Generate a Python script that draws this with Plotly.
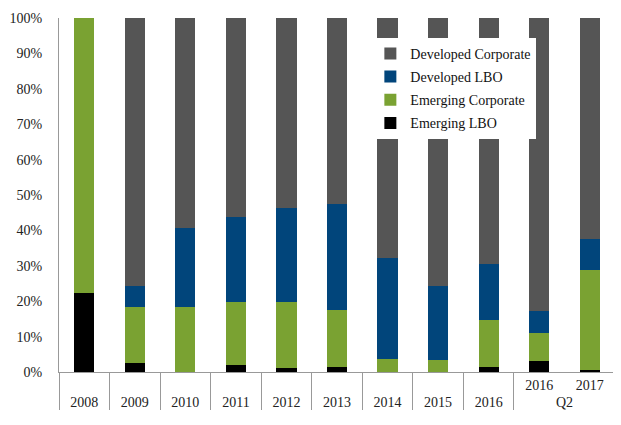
import plotly.graph_objects as go

# outer / inner category levels
outer = ["2008", "2009", "2010", "2011", "2012", "2013", "2014", "2015", "2016", "Q2", "Q2"]
inner = [" ", "  ", "   ", "    ", "     ", "      ", "       ", "        ", "         ", "2016", "2017"]

em_lbo = [22.4, 2.6, 0.0, 2.1, 1.2, 1.5, 0.0, 0.0, 1.5, 3.2, 0.7]
em_corp = [77.6, 15.8, 18.3, 17.8, 18.7, 16.1, 3.8, 3.3, 13.3, 7.9, 28.1]
dev_lbo = [0.0, 6.0, 22.5, 24.0, 26.5, 30.0, 28.4, 21.1, 15.7, 6.2, 8.7]
dev_corp = [0.0, 75.6, 59.2, 56.1, 53.6, 52.4, 67.8, 75.6, 69.5, 82.7, 62.5]

series = [
    ("Emerging LBO", em_lbo, "#000000"),
    ("Emerging Corporate", em_corp, "#7aa232"),
    ("Developed LBO", dev_lbo, "#01457b"),
    ("Developed Corporate", dev_corp, "#555555"),
]

font = "Liberation Serif"

fig = go.Figure()
for i, (name, vals, col) in enumerate(series):
    fig.add_trace(go.Bar(
        x=[outer, inner], y=vals, name=name, legendgroup=name,
        legendrank=len(series) - i,
        marker=dict(color=col, line=dict(width=0)),
    ))

# page body has an 8px margin, so the figure is a bit smaller than the window
fig.update_layout(
    barmode="stack",
    bargap=0.6,
    width=609, height=417,
    margin=dict(l=49, r=2, t=10, b=53),
    plot_bgcolor="white", paper_bgcolor="white",
    font=dict(family=font, size=14, color="#222222"),
    legend=dict(
        x=0.56, y=0.944, xanchor="left", yanchor="top",
        bgcolor="white", traceorder="grouped", tracegroupgap=2,
        itemwidth=30,
        font=dict(family=font, size=14, color="#111111"),
    ),
)
fig.update_yaxes(
    range=[0, 100], ticksuffix="%", dtick=10, showgrid=False,
    showline=True, linecolor="#999999", linewidth=1,
    ticks="", ticklabelstandoff=13,
    zeroline=False,
)
fig.update_xaxes(
    showline=True, linecolor="#999999", linewidth=1,
    showdividers=True, dividercolor="#999999", dividerwidth=1,
    showgrid=False, tickson="boundaries",
    ticks="outside", ticklen=9, tickcolor="rgba(0,0,0,0)",
)
fig.write_html("out.html")
